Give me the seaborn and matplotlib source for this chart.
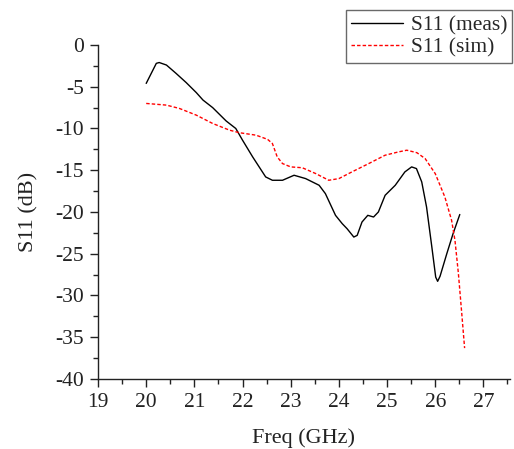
import numpy as np
import pandas as pd
import matplotlib
matplotlib.use("Agg")
import matplotlib.pyplot as plt
import seaborn as sns
from matplotlib.ticker import MultipleLocator
from matplotlib.lines import Line2D

# measured S11
meas_f = [20.0, 20.21, 20.27, 20.42, 20.62, 20.83, 21.04, 21.18, 21.38, 21.66, 21.86,
          22.0, 22.21, 22.48, 22.62, 22.83, 23.07, 23.31, 23.59, 23.72, 23.93, 24.07,
          24.17, 24.31, 24.38, 24.48, 24.6, 24.72, 24.82, 24.96, 25.17, 25.37, 25.51,
          25.61, 25.72, 25.82, 25.93, 26.01, 26.05, 26.1, 26.24, 26.37, 26.51]
meas_s11 = [-4.6, -2.2, -2.1, -2.4, -3.4, -4.5, -5.7, -6.6, -7.5, -9.1, -10.0,
            -11.4, -13.4, -15.8, -16.2, -16.2, -15.6, -16.0, -16.8, -17.8, -20.4, -21.4,
            -22.0, -23.0, -22.8, -21.2, -20.4, -20.6, -20.0, -18.0, -16.8, -15.2, -14.6,
            -14.8, -16.4, -19.4, -24.2, -27.8, -28.3, -27.7, -25.0, -22.6, -20.3]

# simulated S11
sim_f = [20.0, 20.42, 20.69, 21.04, 21.38, 21.73, 21.93, 22.28, 22.52, 22.62, 22.72,
         22.83, 23.0, 23.24, 23.52, 23.79, 24.0, 24.27, 24.62, 24.96, 25.24, 25.41,
         25.62, 25.79, 26.0, 26.2, 26.34, 26.41, 26.48, 26.55, 26.61]
sim_s11 = [-7.0, -7.2, -7.6, -8.4, -9.4, -10.2, -10.5, -10.8, -11.3, -11.8, -13.4,
           -14.2, -14.6, -14.7, -15.4, -16.2, -16.0, -15.2, -14.2, -13.2, -12.8, -12.6,
           -12.9, -13.6, -15.4, -18.2, -21.0, -23.4, -27.3, -32.1, -36.3]

labels = ["S11 (meas)", "S11 (sim)"]

df = pd.concat([
    pd.DataFrame({"f": meas_f, "s11": meas_s11, "series": labels[0]}),
    pd.DataFrame({"f": sim_f, "s11": sim_s11, "series": labels[1]}),
])

sns.set_style("ticks")
plt.rcParams['font.family'] = ['Liberation Serif', 'DejaVu Serif']
plt.rcParams['axes.unicode_minus'] = False

fig = plt.figure(figsize=(5.14, 4.49), dpi=100)
ax = fig.add_axes([0.1907, 0.1559, 0.8013, 0.7439])

sns.lineplot(data=df, x="f", y="s11", hue="series", style="series",
             palette={labels[0]: "black", labels[1]: "red"},
             dashes={labels[0]: "", labels[1]: (2.5, 1.5)},
             estimator=None, sort=False, linewidth=1.0, ax=ax, legend=False)

ax.set_xlim(19, 27.55)
ax.set_ylim(-40, 0)
ax.xaxis.set_major_locator(MultipleLocator(1))
ax.xaxis.set_minor_locator(MultipleLocator(0.5))
ax.yaxis.set_major_locator(MultipleLocator(5))
ax.yaxis.set_minor_locator(MultipleLocator(2.5))
ax.tick_params(which="major", length=6, width=1, labelsize=15.5, pad=4, colors="#222222")
ax.tick_params(which="minor", length=3.5, width=1, colors="#222222")
sns.despine(ax=ax)
for s in ["left", "bottom"]:
    ax.spines[s].set_linewidth(1.0)
    ax.spines[s].set_color("#222222")

ax.set_xlabel("Freq (GHz)", fontsize=16, labelpad=12, color="#222222")
ax.set_ylabel("S11 (dB)", fontsize=16, labelpad=12, color="#222222")

handles = [Line2D([], [], color="black", lw=1.0),
           Line2D([], [], color="red", lw=1.0, ls=(0, (2.5, 1.5)))]
leg = fig.legend(handles, labels, loc="upper left",
                 bbox_to_anchor=(346 / 514, 1 - 10 / 449), frameon=True,
                 fancybox=False, fontsize=15.5, handlelength=2.4, handletextpad=0.35,
                 borderpad=0.25, labelspacing=0.1, borderaxespad=0)
leg.get_frame().set_edgecolor("#444444")
leg.get_frame().set_linewidth(1.0)

fig.savefig("out.png", dpi=100)
